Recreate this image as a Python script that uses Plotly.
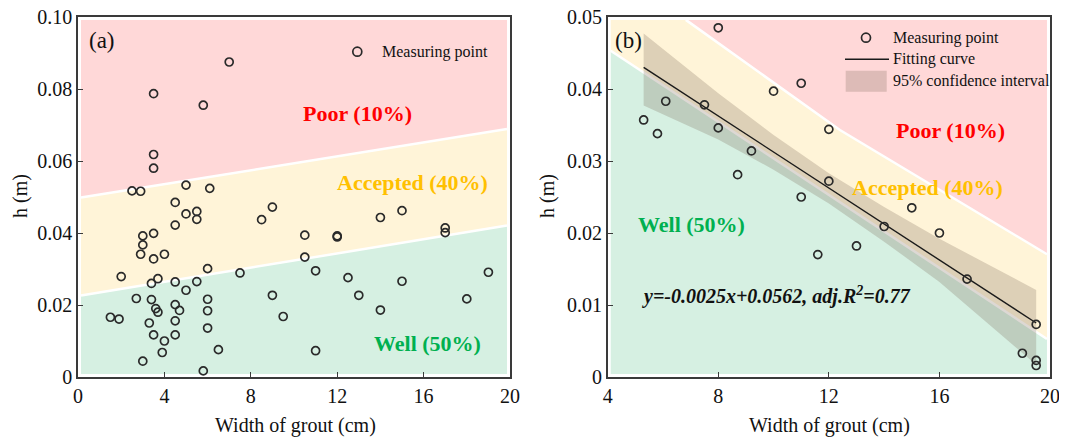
import numpy as np
import plotly.graph_objects as go

# ---------------- Panel (a) data ----------------
a_x = [7.0, 3.5, 5.8, 3.5, 3.5, 2.5, 2.9, 5.0, 6.1,
       4.5, 5.0, 5.5, 5.5, 4.5, 8.5, 9.0, 14.0, 15.0,
       3.0, 3.5, 3.0, 2.9, 3.5, 4.0, 2.0, 6.0, 3.4, 3.7, 4.5, 5.5, 7.5,
       10.5, 12.0, 12.0, 17.0, 17.0, 10.5, 11.0, 12.5, 15.0, 19.0,
       2.7, 3.4, 3.6, 3.7, 4.5, 4.7, 5.0, 6.0, 6.0, 6.0, 1.5, 1.9, 3.3,
       4.5, 3.5, 4.5, 4.0, 3.9, 3.0, 5.8, 6.5, 9.0, 9.5, 11.0, 13.0, 14.0, 18.0]
a_y = [0.0875, 0.0787, 0.0755, 0.0618, 0.0580, 0.0517, 0.0516, 0.0533, 0.0524,
       0.0485, 0.0453, 0.0460, 0.0438, 0.0422, 0.0437, 0.0472, 0.0443, 0.0462,
       0.0392, 0.0399, 0.0367, 0.0341, 0.0328, 0.0341, 0.0279, 0.0301, 0.0260, 0.0273, 0.0264, 0.0265, 0.0289,
       0.0394, 0.0392, 0.0389, 0.0414, 0.0401, 0.0333, 0.0295, 0.0276, 0.0266, 0.0291,
       0.0218, 0.0215, 0.0190, 0.0180, 0.0201, 0.0185, 0.0241, 0.0216, 0.0184, 0.0136, 0.0166, 0.0161, 0.0150,
       0.0156, 0.0117, 0.0117, 0.0100, 0.0068, 0.0044, 0.0017, 0.0076, 0.0227, 0.0168, 0.0073, 0.0227, 0.0186, 0.0217]

# zone boundaries (a)
a_bound_x = [0, 20]
a_poor_y = [0.0497, 0.0690]
a_well_y = [0.0225, 0.0422]

# ---------------- Panel (b) data ----------------
b_x = [8.0, 11.0, 10.0, 6.1, 7.5, 5.3, 5.8, 8.0, 12.0, 9.2, 8.7, 12.0, 11.0,
       15.0, 14.0, 16.0, 11.6, 13.0, 17.0, 19.5, 19.0, 19.5, 19.5]
b_y = [0.0485, 0.0408, 0.0397, 0.0383, 0.0378, 0.0357, 0.0338, 0.0346, 0.0344, 0.0314, 0.0281, 0.0272, 0.0250,
       0.0235, 0.0209, 0.0200, 0.0170, 0.0182, 0.0136, 0.0073, 0.0033, 0.0023, 0.0016]

fit_x = [5.3, 19.5]
fit_y = [0.0430, 0.0075]

ci_x = [5.3, 8.0, 10.0, 12.0, 14.0, 16.0, 19.5]
ci_upper = [0.0477, 0.0394, 0.0336, 0.0283, 0.0236, 0.0192, 0.0121]
ci_lower = [0.0377, 0.0330, 0.0288, 0.0241, 0.0188, 0.0132, 0.0017]

b_well_bx = [4.0, 20.0]
b_well_by = [0.0456, 0.0050]
b_poor_bx = [6.68, 12.4, 20.0]
b_poor_by = [0.0500, 0.0343, 0.0168]

# ---------------- styles ----------------
FONT = "Liberation Serif"
PINK = "#FFD8D8"
YELLOW = "#FFF4D8"
GREEN = "#D6F0E2"
BAND = "rgba(120,100,85,0.25)"
AXC = "#3a3a3a"
MK = "#2a2a2a"

W, H = 1067, 438
OFF = 8  # page body margin of the browser
def px(x):
    return (x - OFF) / W
def py(y):
    return 1 - (y - OFF) / H

fig = go.Figure()

def poly(x, y, color, xa, ya):
    fig.add_trace(go.Scatter(x=x, y=y, fill="toself", fillcolor=color, mode="lines",
                             line=dict(width=0), hoverinfo="skip", showlegend=False,
                             xaxis=xa, yaxis=ya))

def wline(x, y, xa, ya):
    fig.add_trace(go.Scatter(x=x, y=y, mode="lines", line=dict(color="white", width=2.5),
                             hoverinfo="skip", showlegend=False, xaxis=xa, yaxis=ya))

# ---- panel (a) zones ----
xi0, xi1, yi0, yi1 = 0.14, 19.86, 0.0008, 0.0992
p0, p1 = np.interp([xi0, xi1], a_bound_x, a_poor_y)
w0, w1 = np.interp([xi0, xi1], a_bound_x, a_well_y)
poly([xi0, xi1, xi1, xi0], [yi0, yi0, w1, w0], GREEN, "x", "y")
poly([xi0, xi1, xi1, xi0], [w0, w1, p1, p0], YELLOW, "x", "y")
poly([xi0, xi1, xi1, xi0], [p0, p1, yi1, yi1], PINK, "x", "y")
wline([xi0, xi1], [w0, w1], "x", "y")
wline([xi0, xi1], [p0, p1], "x", "y")

fig.add_trace(go.Scatter(x=a_x, y=a_y, mode="markers", showlegend=False,
                         marker=dict(symbol="circle-open", size=8, color=MK, line=dict(width=1.7, color=MK)),
                         xaxis="x", yaxis="y"))

# ---- panel (b) zones ----
bx0, bx1, by0, by1 = 4.11, 19.89, 0.0004, 0.0496
g0, g1 = np.interp([bx0, bx1], b_well_bx, b_well_by)
x_top = float(np.interp(by1, b_poor_by[::-1], b_poor_bx[::-1]))
p_end = float(np.interp(bx1, b_poor_bx, b_poor_by))
mid_x, mid_y = b_poor_bx[1], b_poor_by[1]
poly([bx0, bx1, bx1, bx0], [g0, g1, by0, by0], GREEN, "x2", "y2")
poly([bx0, x_top, mid_x, bx1, bx1, bx0], [by1, by1, mid_y, p_end, g1, g0], YELLOW, "x2", "y2")
poly([x_top, mid_x, bx1, bx1], [by1, mid_y, p_end, by1], PINK, "x2", "y2")
wline([bx0, bx1], [g0, g1], "x2", "y2")
wline([x_top, mid_x, bx1], [by1, mid_y, p_end], "x2", "y2")

# confidence band
fig.add_trace(go.Scatter(x=ci_x + ci_x[::-1], y=ci_upper + ci_lower[::-1], fill="toself",
                         fillcolor=BAND, mode="lines", line=dict(width=0), showlegend=False,
                         hoverinfo="skip", xaxis="x2", yaxis="y2"))
# fitting line
fig.add_trace(go.Scatter(x=fit_x, y=fit_y, mode="lines", line=dict(color="#1a1a1a", width=1.4),
                         showlegend=False, xaxis="x2", yaxis="y2"))
fig.add_trace(go.Scatter(x=b_x, y=b_y, mode="markers", showlegend=False,
                         marker=dict(symbol="circle-open", size=8, color=MK, line=dict(width=1.7, color=MK)),
                         xaxis="x2", yaxis="y2"))

# ---------------- axes ----------------
axis_common = dict(showline=True, mirror=True, linecolor=AXC, linewidth=1.6,
                   ticks="inside", ticklen=5, tickwidth=1.3, tickcolor=AXC,
                   showgrid=False, zeroline=False, automargin=False,
                   ticklabeloverflow="allow",
                   tickfont=dict(family=FONT, size=20, color="#111"))
ydom = [py(377), py(17)]
fig.update_layout(
    template="none",
    width=W, height=H, margin=dict(l=0, r=0, t=0, b=0, pad=0),
    paper_bgcolor="white", plot_bgcolor="white",
    font=dict(family=FONT, color="#111"),
    xaxis=dict(domain=[px(78), px(510)], range=[0, 20], tickvals=[0, 4, 8, 12, 16, 20],
               anchor="y", **axis_common),
    yaxis=dict(domain=ydom, range=[0, 0.1], tickvals=[0, 0.02, 0.04, 0.06, 0.08, 0.0999999],
               ticktext=["0", "0.02", "0.04", "0.06", "0.08", "0.10"], anchor="x", **axis_common),
    xaxis2=dict(domain=[px(607.7), px(1050)], range=[4, 20], tickvals=[4, 8, 12, 16, 20],
                anchor="y2", **axis_common),
    yaxis2=dict(domain=ydom, range=[0, 0.05], tickvals=[0, 0.01, 0.02, 0.03, 0.04, 0.0499999],
                ticktext=["0", "0.01", "0.02", "0.03", "0.04", "0.05"], anchor="x2", **axis_common),
)

ann = []
def text(t, x, y, size, color="#111", xref="paper", yref="paper", xanchor="center", angle=0):
    ann.append(dict(text=t, x=x, y=y, xref=xref, yref=yref, xanchor=xanchor, yanchor="middle",
                    showarrow=False, textangle=angle, font=dict(family=FONT, size=size, color=color)))

# axis titles
text("Width of grout (cm)", px(295), py(425), 20)
text("Width of grout (cm)", px(829), py(425), 20)
text("h (m)", px(20), py(196), 20, angle=-90)
text("h (m)", px(547), py(196), 20, angle=-90)

# panel labels
text("(a)", 0.4, 0.0934, 23, xref="x", yref="y", xanchor="left")
text("(b)", 4.19, 0.0467, 23, xref="x2", yref="y2", xanchor="left")

# zone labels
RED, ORANGE, GRN = "#FF0000", "#FFC000", "#00B050"
text("<b>Poor (10%)</b>", 12.96, 0.0733, 22, RED, "x", "y")
text("<b>Accepted (40%)</b>", 15.5, 0.0539, 22, ORANGE, "x", "y")
text("<b>Well (50%)</b>", 16.16, 0.0094, 22, GRN, "x", "y")
text("<b>Poor (10%)</b>", 16.39, 0.0342, 22, RED, "x2", "y2")
text("<b>Accepted (40%)</b>", 15.57, 0.0263, 22, ORANGE, "x2", "y2")
text("<b>Well (50%)</b>", 7.04, 0.02125, 22, GRN, "x2", "y2")
text("<b><i>y=-0.0025x+0.0562, adj.R<sup>2</sup>=0.77</i></b>", 5.17, 0.0113, 20, "#111", "x2", "y2", xanchor="left")

# legends (drawn manually)
text("Measuring point", px(380), py(52), 16, xanchor="left")
text("Measuring point", px(891), py(38), 16, xanchor="left")
text("Fitting curve", px(891), py(59.5), 16, xanchor="left")
text("95% confidence interval", px(891), py(81), 16, xanchor="left")
fig.update_layout(annotations=ann)

shapes = []
for cx, cy in [(357.3, 51.7), (866, 37.7)]:
    shapes.append(dict(type="circle", xref="paper", yref="paper", xsizemode="pixel", ysizemode="pixel",
                       xanchor=px(cx), yanchor=py(cy), x0=-4.5, x1=4.5, y0=-4.5, y1=4.5,
                       line=dict(color=MK, width=1.7)))
shapes.append(dict(type="line", xref="paper", yref="paper", x0=px(845), x1=px(889), y0=py(59.3), y1=py(59.3),
                   line=dict(color="#1a1a1a", width=1.4)))
shapes.append(dict(type="rect", xref="paper", yref="paper", x0=px(845.7), x1=px(886.7), y0=py(91.7), y1=py(70.7),
                   fillcolor=BAND, line=dict(width=0)))
fig.update_layout(shapes=shapes)

fig.write_html("out.html")
